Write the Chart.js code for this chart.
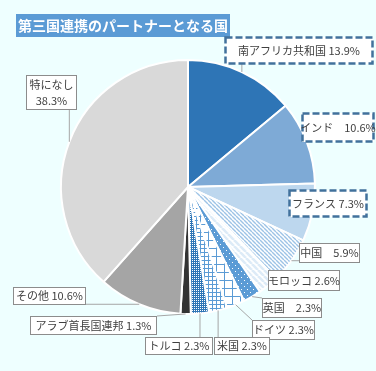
<!DOCTYPE html>
<html lang="ja">
<head>
<meta charset="utf-8">
<script src="https://cdn.jsdelivr.net/npm/chart.js@4.4.0/dist/chart.umd.min.js"></script>
<style>
  html, body { margin: 0; padding: 0; background: #eeffff; }
  #wrap { width: 376px; height: 371px; }
</style>
</head>
<body>
<div id="wrap"><canvas id="chart" width="376" height="371"></canvas></div>
<script>
// データ
const chartTitle = '第三国連携のパートナーとなる国';
const countries = ['南アフリカ共和国', 'インド', 'フランス', '中国', 'モロッコ', '英国', 'ドイツ', '米国', 'トルコ', 'アラブ首長国連邦', 'その他', '特になし'];
const shares = [13.9, 10.6, 7.3, 5.9, 2.6, 2.3, 2.3, 2.3, 2.3, 1.3, 10.6, 38.3];

// ラベルの箱の位置 (x, y, 幅, 高さ)
const labelBoxes = [
    { x: 225, y: 37, w: 148, h: 27, dashed: true, sep: ' ' },
    { x: 302, y: 113, w: 72, h: 29, dashed: true, sep: '\u3000' },
    { x: 289, y: 190, w: 78, h: 27, dashed: true, sep: ' ' },
    { x: 299, y: 243, w: 61, h: 20, sep: '\u3000' },
    { x: 268, y: 270, w: 72, h: 21, sep: ' ' },
    { x: 262, y: 298, w: 60, h: 20, sep: '\u3000' },
    { x: 252, y: 320, w: 63, h: 20, sep: ' ' },
    { x: 214, y: 337, w: 56, h: 18, sep: ' ' },
    { x: 145, y: 337, w: 68, h: 18, sep: ' ' },
    { x: 30, y: 316, w: 127, h: 19, sep: ' ' },
    { x: 13, y: 287, w: 73, h: 18, sep: ' ' },
    { x: 26, y: 75, w: 51, h: 35, twoLine: true }
];

const canvas = document.getElementById('chart');
const mainCtx = canvas.getContext('2d');

function makePattern(size, draw) {
    const c = document.createElement('canvas');
    c.width = size;
    c.height = size;
    const g = c.getContext('2d');
    draw(g, size);
    return mainCtx.createPattern(c, 'repeat');
}

function stripes(bg, fg, size, lw) {
    return makePattern(size, (g, s) => {
        g.fillStyle = bg;
        g.fillRect(0, 0, s, s);
        g.strokeStyle = fg;
        g.lineWidth = lw;
        [-s, 0, s].forEach(x0 => {
            g.beginPath();
            g.moveTo(x0, 0);
            g.lineTo(x0 + s, s);
            g.stroke();
        });
    });
}

function grid(size) {
    return makePattern(size, (g, s) => {
        g.fillStyle = '#ffffff';
        g.fillRect(0, 0, s, s);
        g.fillStyle = '#5b9bd5';
        g.fillRect(0, 0, s, 1);
        g.fillRect(0, 0, 1, s);
    });
}

const fills = [
    '#2e75b6',
    '#7eaad6',
    '#bdd7ee',
    stripes('#ffffff', '#9dc3e6', 4, 1.4),
    stripes('#ffffff', '#ddebf7', 6, 2.6),
    makePattern(6, (g, s) => {
        g.fillStyle = '#5b9bd5';
        g.fillRect(0, 0, s, s);
        g.fillStyle = '#ffffff';
        g.fillRect(1, 1, 1, 1);
        g.fillRect(4, 4, 1, 1);
    }),
    grid(8),
    grid(4),
    makePattern(2, (g, s) => {
        g.fillStyle = '#2e75b6';
        g.fillRect(0, 0, s, s);
        g.fillStyle = '#ffffff';
        g.fillRect(0, 0, 1, 1);
    }),
    '#333333',
    '#a5a5a5',
    '#d9d9d9'
];

const titlePlugin = {
    id: 'titleBox',
    beforeDraw(chart) {
        const ctx = chart.ctx;
        ctx.save();
        ctx.fillStyle = '#5b9bd5';
        ctx.fillRect(16, 14, 214, 23);
        ctx.fillStyle = '#ffffff';
        ctx.font = 'bold 14px "Noto Sans CJK JP"';
        ctx.textBaseline = 'middle';
        ctx.fillText(chartTitle, 18, 26);
        ctx.restore();
    }
};

const calloutPlugin = {
    id: 'callouts',
    afterDatasetsDraw(chart) {
        const ctx = chart.ctx;
        const arcs = chart.getDatasetMeta(0).data;
        ctx.save();
        // 引き出し線
        arcs.forEach((arc, i) => {
            const b = labelBoxes[i];
            const p = arc.getProps(['x', 'y', 'startAngle', 'endAngle', 'outerRadius'], true);
            const mid = (p.startAngle + p.endAngle) / 2;
            const ax = p.x + Math.cos(mid) * p.outerRadius;
            const ay = p.y + Math.sin(mid) * p.outerRadius;
            const bx = Math.min(Math.max(ax, b.x), b.x + b.w);
            const by = Math.min(Math.max(ay, b.y), b.y + b.h);
            ctx.strokeStyle = '#a6a6a6';
            ctx.lineWidth = 1;
            ctx.beginPath();
            ctx.moveTo(ax, ay);
            ctx.lineTo(bx, by);
            ctx.stroke();
        });
        // 箱と文字
        arcs.forEach((arc, i) => {
            const b = labelBoxes[i];
            ctx.fillStyle = '#ffffff';
            ctx.fillRect(b.x, b.y, b.w, b.h);
            if (b.dashed) {
                ctx.strokeStyle = '#41719c';
                ctx.lineWidth = 2.5;
                ctx.setLineDash([7, 3]);
            } else {
                ctx.strokeStyle = '#8c8c8c';
                ctx.lineWidth = 1;
                ctx.setLineDash([]);
            }
            ctx.strokeRect(b.x + 0.5, b.y + 0.5, b.w - 1, b.h - 1);
            ctx.setLineDash([]);
            ctx.fillStyle = '#404040';
            ctx.font = '11px "Noto Sans CJK JP"';
            ctx.textAlign = 'center';
            ctx.textBaseline = 'middle';
            const cx = b.x + b.w / 2;
            const cy = b.y + b.h / 2;
            if (b.twoLine) {
                ctx.fillText(countries[i], cx, cy - 8);
                ctx.fillText(shares[i].toFixed(1) + '%', cx, cy + 8);
            } else {
                ctx.fillText(countries[i] + b.sep + shares[i].toFixed(1) + '%', cx, cy);
            }
        });
        ctx.restore();
    }
};

new Chart(canvas, {
    type: 'pie',
    data: {
        labels: countries,
        datasets: [{
            data: shares,
            backgroundColor: fills,
            borderColor: '#ffffff',
            borderWidth: 2
        }]
    },
    options: {
        responsive: false,
        animation: false,
        layout: { padding: { left: 60, right: 60, top: 59, bottom: 56 } },
        plugins: {
            legend: { display: false },
            tooltip: { enabled: false }
        }
    },
    plugins: [titlePlugin, calloutPlugin]
});
</script>
</body>
</html>
